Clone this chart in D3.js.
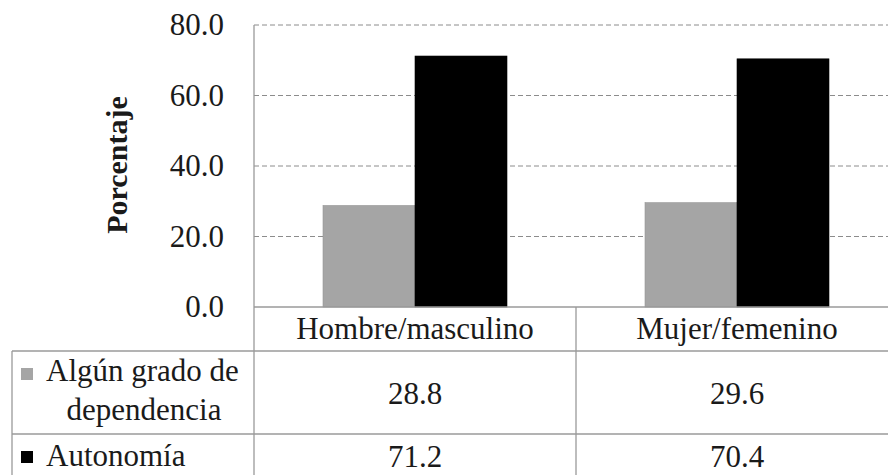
<!DOCTYPE html>
<html>
<head>
<meta charset="utf-8">
<script src="https://cdn.jsdelivr.net/npm/d3@7"></script>
<style>
  body { margin: 0; background: #fff; }
</style>
</head>
<body>
<div id="chart"></div>
<script>
// data
var categories = ["Hombre/masculino", "Mujer/femenino"];
var seriesKeys = ["dependencia", "autonomia"];
var dependencia = [28.8, 29.6];
var autonomia = [71.2, 70.4];
var yTicks = [0, 20, 40, 60, 80];

var data = categories.map(function (c, i) {
  return { cat: c, dependencia: dependencia[i], autonomia: autonomia[i] };
});

var W = 888, H = 475;
var plotLeft = 254, plotRight = 898, plotTop = 25, plotBottom = 307;
var rowTop = 351, rowMid = 434, tableLeft = 12;
var lineCol = "#9a9a9a", textCol = "#1a1a1a";
var serif = "'Liberation Serif', 'Times New Roman', serif";
var colors = { dependencia: "#a5a5a5", autonomia: "#000000" };

var svg = d3.select("#chart").append("svg")
  .attr("width", W)
  .attr("height", H)
  .attr("font-family", serif)
  .style("display", "block");

var x = d3.scaleBand().domain(categories).range([plotLeft, plotRight]).padding(0);
var x1 = d3.scaleBand().domain(seriesKeys).range([0, x.bandwidth()])
  .paddingInner(0).paddingOuter(0.75);
var y = d3.scaleLinear().domain([0, 80]).range([plotBottom, plotTop]);

// gridlines
svg.append("g").selectAll("line")
  .data(yTicks.filter(function (d) { return d > 0; }))
  .enter().append("line")
  .attr("x1", plotLeft).attr("x2", W)
  .attr("y1", function (d) { return y(d); })
  .attr("y2", function (d) { return y(d); })
  .attr("stroke", "#8c8c8c")
  .attr("stroke-width", 1)
  .attr("stroke-dasharray", "5,3");

// y axis labels
var yAxis = svg.append("g")
  .attr("transform", "translate(" + plotLeft + ",0)")
  .call(d3.axisLeft(y).tickValues(yTicks).tickFormat(d3.format(".1f")).tickSize(0).tickPadding(30));
yAxis.attr("font-family", serif).attr("font-size", 31);
yAxis.select(".domain").remove();
yAxis.selectAll("text").attr("fill", textCol);

// bars
svg.append("g").selectAll("g")
  .data(data)
  .enter().append("g")
  .attr("transform", function (d) { return "translate(" + x(d.cat) + ",0)"; })
  .selectAll("rect")
  .data(function (d) { return seriesKeys.map(function (k) { return { key: k, value: d[k] }; }); })
  .enter().append("rect")
  .attr("x", function (d) { return x1(d.key); })
  .attr("width", x1.bandwidth())
  .attr("y", function (d) { return y(d.value); })
  .attr("height", function (d) { return plotBottom - y(d.value); })
  .attr("fill", function (d) { return colors[d.key]; })
  .attr("stroke", function (d) { return d.key === "dependencia" ? "#959595" : "#000"; })
  .attr("stroke-width", 0.6);

// table lines
var tbl = svg.append("g").attr("stroke", lineCol).attr("stroke-width", 1.3);
tbl.append("line").attr("x1", plotLeft).attr("x2", W).attr("y1", plotBottom).attr("y2", plotBottom);
tbl.append("line").attr("x1", tableLeft).attr("x2", W).attr("y1", rowTop).attr("y2", rowTop);
tbl.append("line").attr("x1", tableLeft).attr("x2", W).attr("y1", rowMid).attr("y2", rowMid);
tbl.append("line").attr("x1", plotLeft).attr("x2", plotLeft).attr("y1", plotTop).attr("y2", H);
tbl.append("line").attr("x1", tableLeft).attr("x2", tableLeft).attr("y1", rowTop).attr("y2", H);
tbl.append("line").attr("x1", x(categories[1])).attr("x2", x(categories[1])).attr("y1", plotBottom).attr("y2", H);

// category labels
svg.append("g").selectAll("text")
  .data(categories)
  .enter().append("text")
  .attr("x", function (d) { return x(d) + x.bandwidth() / 2; })
  .attr("y", 339)
  .attr("text-anchor", "middle")
  .attr("font-size", 31)
  .attr("fill", textCol)
  .text(function (d) { return d; });

// table values
var fmt = d3.format(".1f");
svg.append("g").selectAll("text")
  .data(dependencia)
  .enter().append("text")
  .attr("x", function (d, i) { return x(categories[i]) + x.bandwidth() / 2; })
  .attr("y", 404)
  .attr("text-anchor", "middle")
  .attr("font-size", 31)
  .attr("fill", textCol)
  .text(function (d) { return fmt(d); });
svg.append("g").selectAll("text")
  .data(autonomia)
  .enter().append("text")
  .attr("x", function (d, i) { return x(categories[i]) + x.bandwidth() / 2; })
  .attr("y", 467)
  .attr("text-anchor", "middle")
  .attr("font-size", 31)
  .attr("fill", textCol)
  .text(function (d) { return fmt(d); });

// legend keys in row headers
svg.append("rect").attr("x", 21).attr("y", 368).attr("width", 12).attr("height", 12).attr("fill", colors.dependencia);
svg.append("rect").attr("x", 21).attr("y", 451).attr("width", 12).attr("height", 12).attr("fill", colors.autonomia);
svg.append("text").attr("x", 46).attr("y", 381).attr("font-size", 31).attr("fill", textCol).text("Algún grado de");
svg.append("text").attr("x", 144).attr("y", 420).attr("text-anchor", "middle").attr("font-size", 31).attr("fill", textCol).text("dependencia");
svg.append("text").attr("x", 46).attr("y", 466).attr("font-size", 31).attr("fill", textCol).text("Autonomía");

// y axis title
svg.append("text")
  .attr("transform", "translate(127,165) rotate(-90)")
  .attr("text-anchor", "middle")
  .attr("font-size", 30)
  .attr("font-weight", "bold")
  .attr("fill", textCol)
  .text("Porcentaje");
</script>
</body>
</html>
